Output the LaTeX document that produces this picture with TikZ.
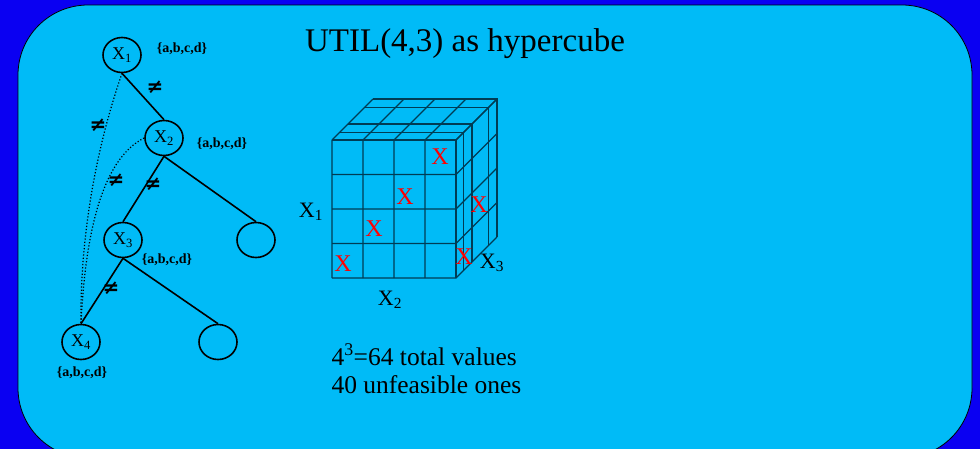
\documentclass[tikz,border=0pt]{standalone}
\usepackage{fontspec}
\setmainfont{Liberation Serif}
\newfontfamily\symfont{DejaVu Sans}
\usetikzlibrary{arrows.meta,calc,positioning,shapes.geometric}
\definecolor{frame}{HTML}{0A00F2}
\definecolor{panel}{HTML}{00BBF7}
\definecolor{gridline}{HTML}{003C55}
\definecolor{xred}{HTML}{FF0000}
\newcommand{\xv}[1]{X\textsubscript{#1}}

\begin{document}
\begin{tikzpicture}[x=1pt,y=-1pt,
  var/.style={draw,ellipse,line width=1.6pt,minimum width=38pt,minimum height=35pt,inner sep=0pt,font=\fontsize{18}{18}\selectfont},
  dom/.style={font=\bfseries\fontsize{14}{14}\selectfont},
  neq/.style={font=\symfont\bfseries\fontsize{20}{20}\selectfont},
  tree/.style={line width=1.6pt},
  link/.style={dotted,line width=1.2pt},
  cube/.style={draw=gridline,line width=1.1pt},
  bad/.style={text=xred,font=\fontsize{24}{24}\selectfont},
  axis/.style={font=\fontsize{22}{22}\selectfont}]
\useasboundingbox (0,0) rectangle (980,448);
\clip (0,0) rectangle (980,448);
\fill[frame] (-5,-5) rectangle (985,455);
\filldraw[fill=panel,draw=black,line width=0.8pt,rounded corners=70pt] (18,5) rectangle (972,458);
\node[anchor=base,font=\fontsize{33}{33}\selectfont] (title) at (465,51) {UTIL(4,3) as hypercube};

\node[var] (x1) at (122,55) {\xv1};
\node[var] (x2) at (164,138) {\xv2};
\node[var] (x3) at (123,240) {\xv3};
\node[var] (c2) at (256,240) {};
\node[var] (x4) at (81,342) {\xv4};
\node[var] (c3) at (218,342) {};
\node[dom] (d1) at (182,49) {\{a,b,c,d\}};
\node[dom] (d2) at (222,144) {\{a,b,c,d\}};
\node[dom] (d3) at (167,260) {\{a,b,c,d\}};
\node[dom] (d4) at (82,373) {\{a,b,c,d\}};
\draw[tree] (x1.south)--(x2.north);
\draw[tree] (x2.south)--(x3.north);
\draw[tree] (x2.south)--(c2.north);
\draw[tree] (x3.south)--(x4.north);
\draw[tree] (x3.south)--(c3.north);
\draw[link] (x1.south) .. controls (92,160) and (80,250) .. (x4.north);
\draw[link] (x2.west) .. controls (100,160) and (85,240) .. (x4.north);
\node[neq] (n12) at (155,87) {≠};
\node[neq] (n14) at (98,125) {≠};
\node[neq] (n24) at (116,180) {≠};
\node[neq] (n23) at (153,184) {≠};
\node[neq] (n34) at (111,288) {≠};

\foreach \i in {0,...,4} \draw[cube] ({332+31*\i},140) -- ++(0,138) ({332+31*\i},140) -- ++(41,-41);
\foreach \j in {0,...,4} \draw[cube] (332,{140+34.5*\j}) -- ++(124,0) -- ++(41,-41);
\foreach \f in {0,0.19,0.39,0.8,1} \draw[cube] ({332+41*\f},{140-41*\f}) -- ++(124,0) -- ++(0,138);
\node[bad] (b1) at (343,264) {X};
\node[bad] (b2) at (374,229) {X};
\node[bad] (b3) at (405,197) {X};
\node[bad] (b4) at (440,157) {X};
\node[bad] (b5) at (479,205) {X};
\node[bad] (b6) at (464,257) {X};
\node[axis] (a1) at (311,212) {\xv1};
\node[axis] (a2) at (390,300) {\xv2};
\node[axis] (a3) at (492,263) {\xv3};

\node[anchor=base west,font=\fontsize{25.5}{25.5}\selectfont] (tot) at (328,365) {4\textsuperscript{3}=64 total values};
\node[anchor=base west,font=\fontsize{25.5}{25.5}\selectfont] (infeas) at (328,393) {40 unfeasible ones};
\end{tikzpicture}
\end{document}
